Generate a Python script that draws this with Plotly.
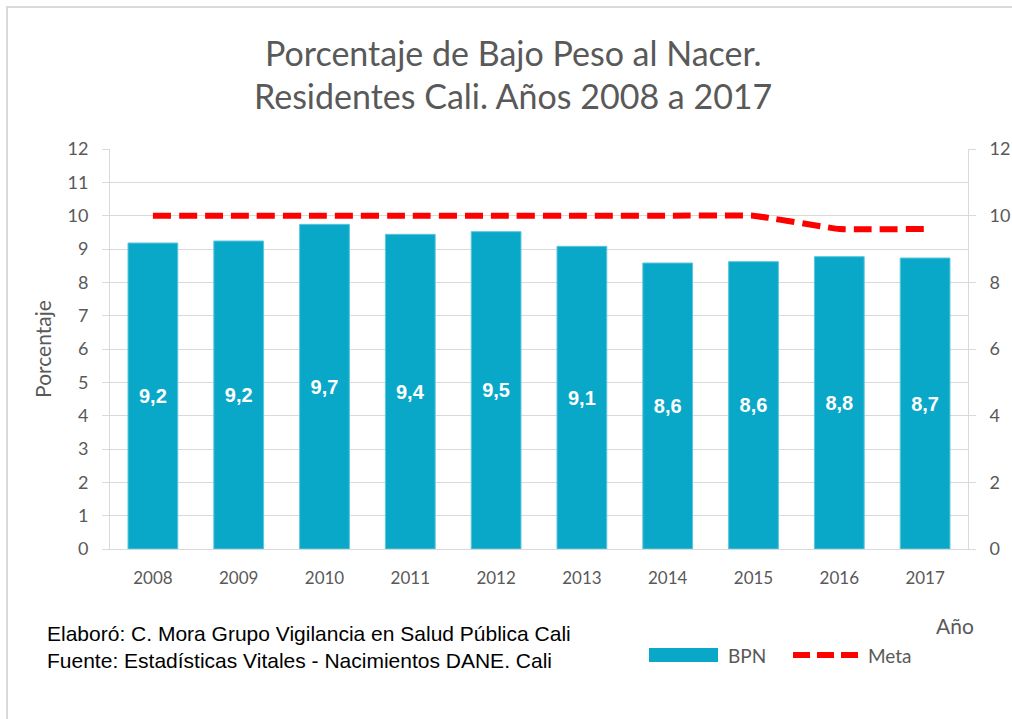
import plotly.graph_objects as go

# Datos
anios = ["2008", "2009", "2010", "2011", "2012", "2013", "2014", "2015", "2016", "2017"]
bpn = [9.18, 9.24, 9.74, 9.44, 9.52, 9.08, 8.58, 8.62, 8.77, 8.73]
meta = [10, 10, 10, 10, 10, 10, 10, 10, 9.6, 9.6]

GRIS = "#595959"
REJILLA = "#D9D9D9"
AZUL = "#0AA8C8"
ROJO = "#FF0000"
FUENTE = "Lato"

etiquetas = [f"{v:.1f}".replace(".", ",") for v in bpn]

# Margenes del area de trazado (px)
ML, MR, MT, MB = 110, 44, 149, 170
W, H = 1012, 719
PW, PH = W - ML - MR, H - MT - MB


def px_x(x):
    return (x - ML) / PW


def px_y(y):
    return (H - MB - y) / PH


fig = go.Figure()
fig.add_trace(go.Bar(
    x=anios, y=bpn, name="BPN",
    marker=dict(color=AZUL, line=dict(color="#5CC6DC", width=1)),
    width=0.58,
    text=etiquetas, textposition="inside", insidetextanchor="middle",
    textfont=dict(family="Liberation Sans", size=20, color="white"),
    texttemplate="<b>%{text}</b>",
    textangle=0,
    showlegend=False,
))
fig.add_trace(go.Scatter(
    x=anios, y=meta, name="Meta", yaxis="y2", mode="lines",
    line=dict(color=ROJO, width=6, dash="18px,8px", shape="spline", smoothing=0.2),
    showlegend=False,
))

eje = dict(
    range=[0, 12], gridcolor=REJILLA, gridwidth=1, automargin=False,
    showline=True, linecolor=REJILLA, ticks="outside", ticklen=7,
    tickcolor=REJILLA, tickfont=dict(family=FUENTE, size=18, color=GRIS),
    zeroline=False, fixedrange=True,
)

# Leyenda dibujada a mano: barra ancha y linea discontinua
ley_y = px_y(655)
formas = [
    dict(type="rect", xref="paper", yref="paper",
         x0=px_x(7), x1=px_x(1030), y0=px_y(760), y1=px_y(7),
         line=dict(color=REJILLA, width=2), fillcolor="rgba(0,0,0,0)", layer="below"),
    dict(type="rect", xref="paper", yref="paper",
         x0=px_x(649), x1=px_x(718), y0=px_y(662), y1=px_y(648),
         line=dict(width=0), fillcolor=AZUL),
    dict(type="line", xref="paper", yref="paper",
         x0=px_x(793), x1=px_x(858), y0=ley_y, y1=ley_y,
         line=dict(color=ROJO, width=6, dash="17px,7px")),
]

titulo = dict(xref="paper", yref="paper", xanchor="center", yanchor="middle",
              showarrow=False, font=dict(family=FUENTE, size=34, color=GRIS))

fig.update_layout(
    width=W, height=H,
    paper_bgcolor="white", plot_bgcolor="white",
    margin=dict(l=ML, r=MR, t=MT, b=MB),
    xaxis=dict(
        showgrid=False, showline=True, linecolor=REJILLA, ticks="", automargin=False,
        tickfont=dict(family=FUENTE, size=17, color=GRIS), ticklabelstandoff=14,
    ),
    yaxis=dict(
        dtick=1, showgrid=True, ticklabelstandoff=10,
        title=dict(text="Porcentaje", font=dict(family=FUENTE, size=21, color=GRIS), standoff=10),
        **eje,
    ),
    yaxis2=dict(
        overlaying="y", side="right", dtick=2, showgrid=False, ticklabelstandoff=10,
        **eje,
    ),
    showlegend=False,
    bargap=0.42,
    shapes=formas,
    annotations=[
        dict(text="Porcentaje de Bajo Peso al Nacer.", x=px_x(513), y=px_y(52), **titulo),
        dict(text="Residentes Cali. Años 2008 a 2017", x=px_x(513), y=px_y(96), **titulo),
        dict(text="Año", xref="paper", yref="paper", x=px_x(976), y=px_y(625),
             xanchor="right", yanchor="middle", showarrow=False,
             font=dict(family=FUENTE, size=21, color=GRIS)),
        dict(text="BPN", xref="paper", yref="paper", x=px_x(726), y=ley_y,
             xanchor="left", yanchor="middle", showarrow=False,
             font=dict(family=FUENTE, size=19, color=GRIS)),
        dict(text="Meta", xref="paper", yref="paper", x=px_x(866), y=ley_y,
             xanchor="left", yanchor="middle", showarrow=False,
             font=dict(family=FUENTE, size=19, color=GRIS)),
        dict(text="Elaboró: C. Mora Grupo Vigilancia en Salud Pública Cali<br>"
                  "Fuente: Estadísticas Vitales - Nacimientos DANE. Cali",
             xref="paper", yref="paper", x=px_x(45), y=px_y(647),
             xanchor="left", yanchor="middle", align="left", showarrow=False,
             font=dict(family="Liberation Sans", size=21, color="black")),
    ],
)

fig.write_html("out.html")
